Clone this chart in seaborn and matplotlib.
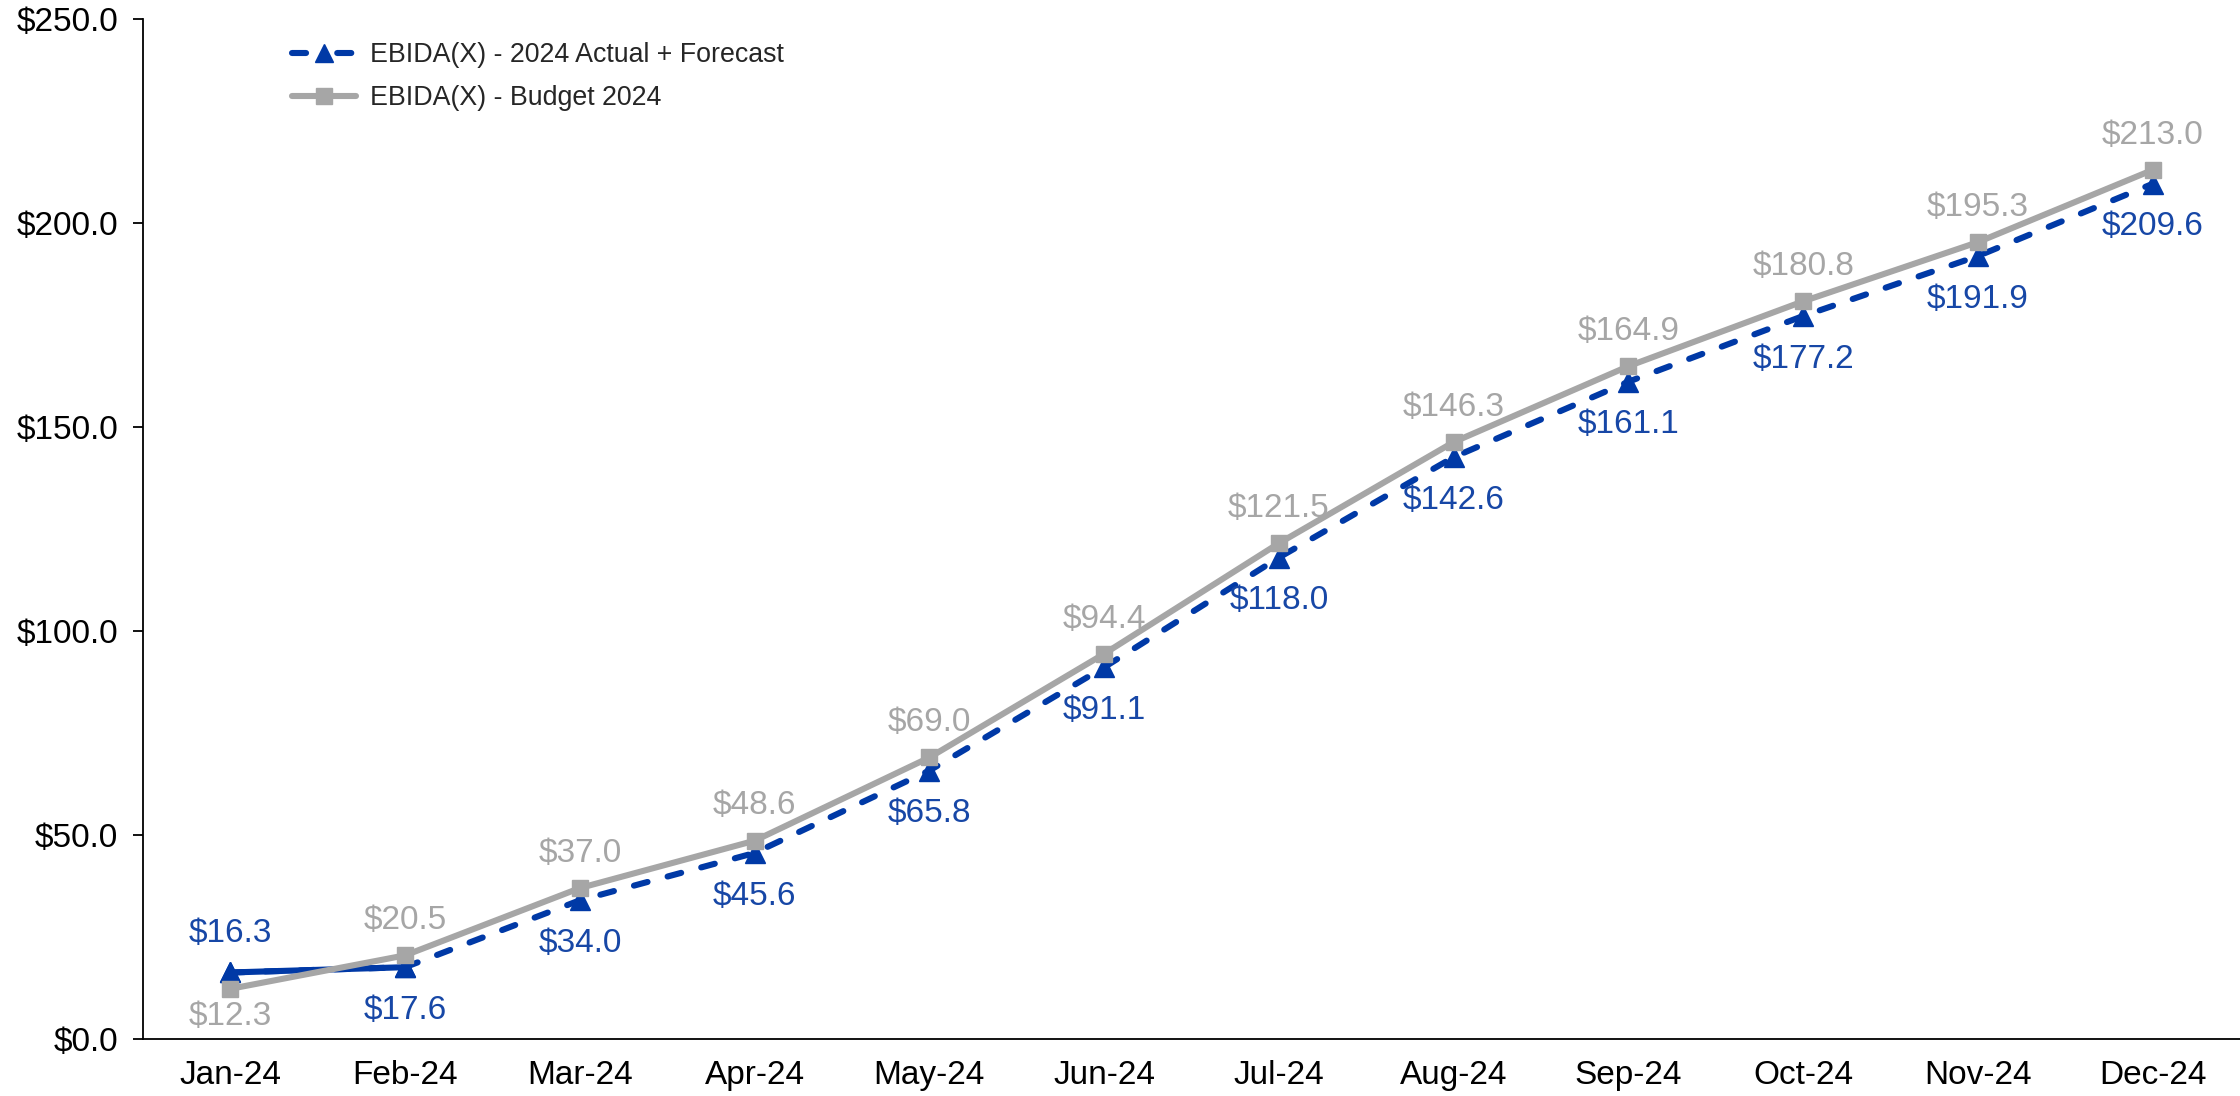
import matplotlib
matplotlib.use("Agg")
import matplotlib.pyplot as plt
from matplotlib.lines import Line2D
import seaborn as sns
import pandas as pd

months = ["Jan-24", "Feb-24", "Mar-24", "Apr-24", "May-24", "Jun-24",
          "Jul-24", "Aug-24", "Sep-24", "Oct-24", "Nov-24", "Dec-24"]
actual_forecast = [16.3, 17.6, 34.0, 45.6, 65.8, 91.1, 118.0, 142.6, 161.1, 177.2, 191.9, 209.6]
actual_only = [16.3, 17.6]
budget = [12.3, 20.5, 37.0, 48.6, 69.0, 94.4, 121.5, 146.3, 164.9, 180.8, 195.3, 213.0]
y_ticks = [0, 50, 100, 150, 200, 250]

label_fc = "EBIDA(X) - 2024 Actual + Forecast"
label_bud = "EBIDA(X) - Budget 2024"

BLUE = "#0039A6"
BLUE_TXT = "#1747A6"
GRAY = "#A6A6A6"

sns.set_theme(style="white")
plt.rcParams["font.family"] = ["Liberation Sans", "DejaVu Sans"]

df_fc = pd.DataFrame({"month": months, "value": actual_forecast})
df_act = pd.DataFrame({"month": months[:len(actual_only)], "value": actual_only})
df_bud = pd.DataFrame({"month": months, "value": budget})

fig = plt.figure(figsize=(22.4, 10.96), dpi=100)
ax = fig.add_axes([143 / 2240, 1 - 1039 / 1096, 1 - 143 / 2240, (1039 - 19) / 1096])

LW = 4.4
# forecast line (dashed, round-capped) across the year
sns.lineplot(data=df_fc, x="month", y="value", ax=ax, color=BLUE, linewidth=LW,
             linestyle=(0, (2.3, 3.4)), dash_capstyle="round",
             marker="^", markersize=15, markeredgecolor=BLUE,
             markeredgewidth=1, sort=False, zorder=2)
# actuals (solid) for the closed months
sns.lineplot(data=df_act, x="month", y="value", ax=ax, color=BLUE, linewidth=LW,
             marker="^", markersize=15, markeredgecolor=BLUE,
             markeredgewidth=1, sort=False, zorder=2.5)
# budget line on top
sns.lineplot(data=df_bud, x="month", y="value", ax=ax, color=GRAY, linewidth=LW,
             marker="s", markersize=11, markeredgecolor=GRAY,
             markeredgewidth=1, sort=False, zorder=3)

fs = 24
for i, (f, b) in enumerate(zip(actual_forecast, budget)):
    if i == 0:
        ax.annotate(f"${f:.1f}", (i, f), xytext=(0, 28), textcoords="offset points",
                    ha="center", va="center", fontsize=fs, color=BLUE_TXT)
        ax.annotate(f"${b:.1f}", (i, b), xytext=(0, -20), textcoords="offset points",
                    ha="center", va="center", fontsize=fs, color=GRAY)
    else:
        ax.annotate(f"${f:.1f}", (i, f), xytext=(0, -31), textcoords="offset points",
                    ha="center", va="center", fontsize=fs, color=BLUE_TXT)
        ax.annotate(f"${b:.1f}", (i, b), xytext=(0, 25), textcoords="offset points",
                    ha="center", va="center", fontsize=fs, color=GRAY)

ax.set_xlim(-0.5, len(months) - 0.5)
ax.set_ylim(0, 250)
ax.set_yticks(y_ticks)
ax.set_yticklabels([f"${v:.1f}" for v in y_ticks])
ax.set_xlabel("")
ax.set_ylabel("")

for side in ("top", "right"):
    ax.spines[side].set_visible(False)
for side in ("left", "bottom"):
    ax.spines[side].set_color("black")
    ax.spines[side].set_linewidth(1.3)

ax.tick_params(axis="y", which="major", direction="out", length=7, width=1.3,
               color="black", left=True, pad=11, labelsize=fs, labelcolor="black")
ax.tick_params(axis="x", which="major", length=0, pad=15, labelsize=fs,
               labelcolor="black")

handles = [
    Line2D([], [], color=BLUE, linewidth=LW, linestyle=(0, (2.3, 5.1)),
           dash_capstyle="round", marker="^", markersize=13),
    Line2D([], [], color=GRAY, linewidth=LW, solid_capstyle="round",
           marker="s", markersize=11),
]
ax.legend(handles, [label_fc, label_bud], loc="upper left",
          bbox_to_anchor=(0.071, 0.977), frameon=False, fontsize=19.3,
          borderpad=0, borderaxespad=0,
          handlelength=2.4, handletextpad=0.5, labelspacing=0.62)

fig.savefig("out.png", dpi=100, facecolor="white")
